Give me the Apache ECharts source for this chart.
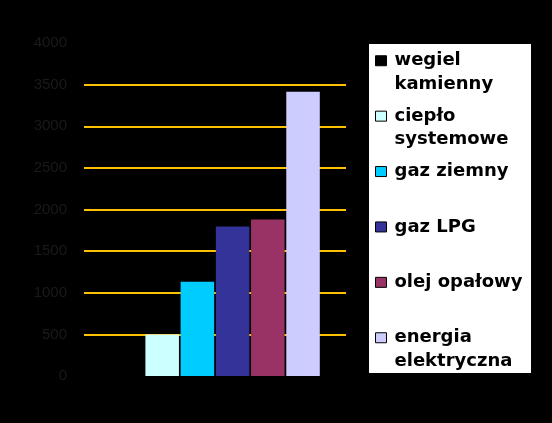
<!DOCTYPE html>
<html>
<head>
<meta charset="utf-8">
<script src="https://cdn.jsdelivr.net/npm/echarts@6/dist/echarts.min.js"></script>
<style>
  html, body { margin: 0; padding: 0; background: #000; }
  #chart { width: 552px; height: 423px; }
</style>
</head>
<body>
<div id="chart"></div>
<script>
// data
const categories = [''];
const seriesNames = ['wegiel kamienny', 'ciepło systemowe', 'gaz ziemny', 'gaz LPG', 'olej opałowy', 'energia elektryczna'];
const legendLines = [
  ['wegiel', 'kamienny'],
  ['ciepło', 'systemowe'],
  ['gaz ziemny', ' '],
  ['gaz LPG', ' '],
  ['olej opałowy', ' '],
  ['energia', 'elektryczna']
];
const values = [400, 500, 1133, 1797, 1879, 3415];
const yTicks = [0, 4000, 500]; // min, max, step

const palette = ['#000000', '#CCFFFF', '#00CCFF', '#333399', '#993366', '#CCCCFF'];

const chart = echarts.init(document.getElementById('chart'));

const series = seriesNames.map((name, i) => ({
  name,
  type: 'bar',
  barCategoryGap: '20%',
  barGap: '5%',
  itemStyle: { color: palette[i] },
  data: [values[i]]
}));

const LH = 23.5;

const option = {
  backgroundColor: '#000',
  animation: false,
  graphic: [{
    type: 'rect',
    left: 369, top: 44,
    shape: { width: 162, height: 329 },
    style: { fill: '#fff' },
    z: 0
  }],
  grid: { left: 84, right: 206, top: 43, bottom: 47 },
  xAxis: {
    type: 'category',
    data: categories,
    axisLine: { show: false },
    axisTick: { show: false },
    axisLabel: { show: false }
  },
  yAxis: {
    type: 'value',
    min: yTicks[0],
    max: yTicks[1],
    interval: yTicks[2],
    axisLine: { show: false },
    axisTick: { show: false },
    axisLabel: {
      margin: 17,
      color: '#1a1a1a',
      fontFamily: 'Liberation Sans, Arial, sans-serif',
      fontSize: 15,
      formatter: v => String(v)
    },
    splitLine: {
      showMinLine: false,
      showMaxLine: false,
      lineStyle: { color: '#FFC000', width: 2 }
    }
  },
  legend: {
    orient: 'vertical',
    left: 375,
    top: 25.5,
    padding: 0,
    itemGap: 55.4 - (LH * 3),
    itemWidth: 11,
    itemHeight: 10,
    icon: 'rect',
    selectedMode: false,
    itemStyle: { borderColor: '#000', borderWidth: 1 },
    textStyle: {
      color: '#000',
      fontFamily: 'DejaVu Sans, sans-serif',
      fontWeight: 'bold',
      fontSize: 18,
      lineHeight: LH,
      padding: [0, 0, 0, 3]
    },
    // blank first line keeps the marker level with the first text line
    formatter: name => ' \n' + legendLines[seriesNames.indexOf(name)].join('\n'),
    data: seriesNames,
    z: 5
  },
  series
};

chart.setOption(option);
</script>
</body>
</html>
